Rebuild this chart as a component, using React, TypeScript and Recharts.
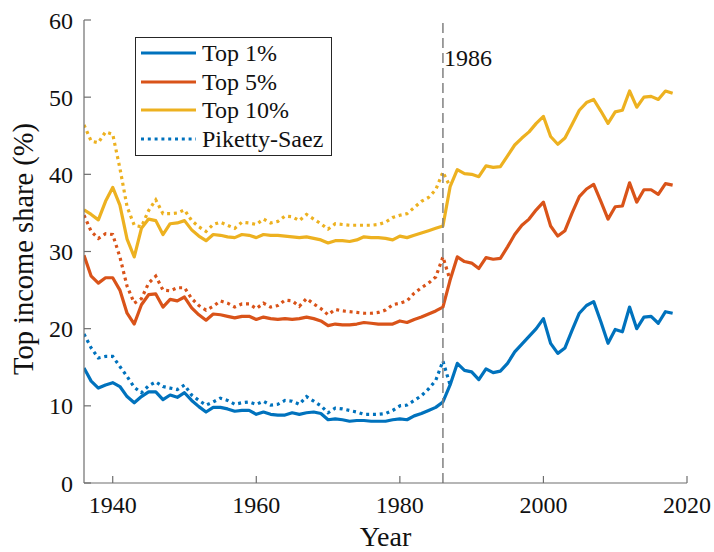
import React from 'react';
import { LineChart, Line, XAxis, YAxis, ReferenceLine, Label } from 'recharts';

const START_YEAR = 1936;

const top1 = [
  14.9, 13.2, 12.3, 12.7, 13.0, 12.5, 11.2, 10.4, 11.2, 11.8,
  11.8, 10.8, 11.4, 11.1, 11.7, 10.7, 9.9, 9.2, 9.8, 9.8,
  9.6, 9.3, 9.4, 9.4, 8.9, 9.2, 8.9, 8.8, 8.8, 9.1,
  8.9, 9.1, 9.2, 9.0, 8.2, 8.3, 8.2, 8.0, 8.1, 8.1,
  8.0, 8.0, 8.0, 8.2, 8.3, 8.2, 8.7, 9.0, 9.4, 9.8,
  10.5, 12.7, 15.5, 14.6, 14.4, 13.4, 14.8, 14.3, 14.5, 15.5,
  17.0, 18.0, 19.0, 20.0, 21.3, 18.1, 16.8, 17.5, 19.8, 22.0,
  23.0, 23.5, 20.9, 18.1, 19.9, 19.6, 22.8, 20.0, 21.5, 21.6,
  20.7, 22.2, 22.0,
];

const top5 = [
  29.5, 26.8, 25.9, 26.6, 26.6, 25.0, 22.0, 20.6, 23.1, 24.4,
  24.5, 22.8, 23.8, 23.6, 24.1, 22.7, 21.8, 21.1, 21.9, 21.8,
  21.6, 21.4, 21.6, 21.6, 21.2, 21.5, 21.3, 21.2, 21.3, 21.2,
  21.3, 21.5, 21.3, 21.0, 20.4, 20.6, 20.5, 20.5, 20.6, 20.8,
  20.7, 20.6, 20.6, 20.6, 21.0, 20.8, 21.2, 21.5, 21.9, 22.3,
  22.8, 26.3, 29.3, 28.7, 28.5, 27.8, 29.2, 29.0, 29.1, 30.6,
  32.2, 33.4, 34.2, 35.4, 36.4, 33.3, 32.0, 32.7, 35.0, 37.1,
  38.1, 38.7, 36.5, 34.2, 35.8, 35.9, 38.9, 36.4, 38.0, 38.0,
  37.4, 38.8, 38.6,
];

const top10 = [
  35.4, 34.8, 34.1, 36.5, 38.3, 36.0, 31.6, 29.3, 33.0, 34.2,
  34.0, 32.2, 33.6, 33.7, 34.0, 32.8, 32.0, 31.4, 32.2, 32.1,
  31.9, 31.8, 32.2, 32.1, 31.8, 32.2, 32.1, 32.1, 32.0, 31.9,
  31.8, 31.9, 31.7, 31.5, 31.1, 31.4, 31.4, 31.3, 31.5, 31.9,
  31.8, 31.8, 31.7, 31.5, 32.0, 31.8, 32.1, 32.4, 32.7, 33.0,
  33.3, 38.4, 40.6, 40.1, 40.0, 39.7, 41.1, 40.9, 41.0, 42.4,
  43.8, 44.7, 45.5, 46.6, 47.5, 44.9, 43.9, 44.7, 46.5, 48.3,
  49.3, 49.7, 48.2, 46.6, 48.1, 48.3, 50.8, 48.7, 50.0, 50.1,
  49.7, 50.8, 50.5,
];

// Piketty-Saez series (1936-1987)
const psTop1 = [
  19.3, 17.5, 16.2, 16.4, 16.4, 15.1, 13.8, 12.4, 11.7, 12.6,
  13.1, 12.5, 12.3, 12.1, 12.7, 11.4, 10.7, 10.1, 10.5, 11.0,
  10.7, 10.2, 10.4, 10.5, 10.2, 10.6, 10.1, 10.2, 10.7, 10.6,
  10.2, 11.2, 10.6, 10.0, 9.1, 9.7, 9.6, 9.4, 9.2, 8.9,
  8.9, 8.9, 9.0, 9.4, 10.0, 10.1, 10.7, 11.3, 12.2, 13.3,
  15.8, 12.7,
];

const psTop5 = [
  34.7, 32.6, 31.7, 32.3, 32.2, 29.3, 25.5, 23.3, 23.9, 25.9,
  26.8, 25.0, 24.9, 25.3, 25.3, 23.9, 23.0, 22.4, 22.9, 23.6,
  23.3, 22.8, 23.2, 23.2, 22.6, 23.3, 22.8, 23.0, 23.7, 23.6,
  22.9, 23.9, 23.2, 22.6, 21.8, 22.5, 22.3, 22.2, 22.1, 22.0,
  22.0, 22.1, 22.4, 23.1, 23.3, 23.6, 24.6, 25.3, 25.9, 26.7,
  29.3, 26.3,
];

const psTop10 = [
  46.4, 44.3, 44.1, 45.5, 45.2, 40.8, 35.8, 33.4, 33.2, 35.3,
  36.7, 34.9, 34.9, 35.0, 35.4, 34.0, 33.2, 32.6, 33.5, 33.8,
  33.4, 33.0, 33.8, 33.7, 33.5, 34.2, 33.7, 33.9, 34.6, 34.5,
  34.0, 34.8, 34.2, 33.6, 32.9, 33.6, 33.5, 33.4, 33.4, 33.4,
  33.4, 33.5, 33.8, 34.4, 34.7, 34.9, 35.7, 36.5, 37.0, 38.0,
  40.3, 38.4,
];

const xTicks = [1940, 1960, 1980, 2000, 2020];
const yTicks = [0, 10, 20, 30, 40, 50, 60];
const REFORM_YEAR = 1986;

const BLUE = '#0072BD';
const RED = '#D95319';
const YELLOW = '#EDB120';
const FONT = '"Liberation Serif", "Times New Roman", serif';
const AXIS = '#6e6e6e';
const DOT = '3 3.8';

const legendItems = [
  { name: 'Top 1%', color: BLUE, dotted: false },
  { name: 'Top 5%', color: RED, dotted: false },
  { name: 'Top 10%', color: YELLOW, dotted: false },
  { name: 'Piketty-Saez', color: BLUE, dotted: true },
];

const data = top1.map((v, i) => ({
  year: START_YEAR + i,
  top1: v,
  top5: top5[i],
  top10: top10[i],
  ps1: i < psTop1.length ? psTop1[i] : null,
  ps5: i < psTop5.length ? psTop5[i] : null,
  ps10: i < psTop10.length ? psTop10[i] : null,
}));

export default function App() {
  const tickStyle = { fontSize: 24, fill: '#111', fontFamily: FONT };
  return (
    <div style={{ position: 'absolute', left: 0, top: 0, width: 714, height: 552, background: '#fff' }}>
      <LineChart width={714} height={552} data={data} margin={{ top: 20, right: 27, left: 0, bottom: 0 }}>
        <XAxis
          dataKey="year"
          type="number"
          domain={[1936, 2020]}
          ticks={xTicks}
          interval={0}
          allowDataOverflow
          height={69}
          tickSize={-7}
          tickMargin={20}
          tick={tickStyle}
          axisLine={{ stroke: AXIS, strokeWidth: 1.2 }}
          tickLine={{ stroke: AXIS, strokeWidth: 1.2 }}
        >
          <Label
            content={() => (
              <text x={385.5} y={546} textAnchor="middle" fontSize={28} fontFamily={FONT} fill="#111">
                Year
              </text>
            )}
          />
        </XAxis>
        <YAxis
          type="number"
          domain={[0, 60]}
          ticks={yTicks}
          interval={0}
          width={84}
          tickSize={-7}
          tickMargin={18}
          tick={tickStyle}
          axisLine={{ stroke: AXIS, strokeWidth: 1.2 }}
          tickLine={{ stroke: AXIS, strokeWidth: 1.2 }}
        >
          <Label
            content={() => (
              <text
                transform="translate(33,249) rotate(-90)"
                textAnchor="middle"
                fontSize={28.5}
                fontFamily={FONT}
                fill="#111"
              >
                Top income share (%)
              </text>
            )}
          />
        </YAxis>
        <Line type="linear" dataKey="top1" stroke={BLUE} strokeWidth={3.2} dot={false} isAnimationActive={false} strokeLinejoin="round" />
        <Line type="linear" dataKey="top5" stroke={RED} strokeWidth={3.2} dot={false} isAnimationActive={false} strokeLinejoin="round" />
        <Line type="linear" dataKey="top10" stroke={YELLOW} strokeWidth={3.2} dot={false} isAnimationActive={false} strokeLinejoin="round" />
        <Line type="linear" dataKey="ps1" stroke={BLUE} strokeWidth={3.2} strokeDasharray={DOT} dot={false} isAnimationActive={false} />
        <Line type="linear" dataKey="ps5" stroke={RED} strokeWidth={3.2} strokeDasharray={DOT} dot={false} isAnimationActive={false} />
        <Line type="linear" dataKey="ps10" stroke={YELLOW} strokeWidth={3.2} strokeDasharray={DOT} dot={false} isAnimationActive={false} />
        <ReferenceLine
          x={REFORM_YEAR}
          stroke="#808080"
          strokeWidth={1.5}
          strokeDasharray="10 5"
          label={(p: any) => (
            <text x={(p.viewBox?.x ?? 443) + 1} y={66} fontSize={24} fontFamily={FONT} fill="#111">
              {String(REFORM_YEAR)}
            </text>
          )}
        />
      </LineChart>
      <div
        style={{
          position: 'absolute',
          left: 135,
          top: 37,
          width: 197,
          height: 119,
          border: '1px solid #262626',
          background: '#fff',
          boxSizing: 'border-box',
          paddingTop: 1,
          fontFamily: FONT,
          fontSize: 24,
          color: '#111',
        }}
      >
        {legendItems.map((it) => (
          <div key={it.name} style={{ height: 28.5, display: 'flex', alignItems: 'center' }}>
            <svg width={66} height={10} style={{ flex: 'none' }}>
              <line
                x1={5}
                x2={60}
                y1={5}
                y2={5}
                stroke={it.color}
                strokeWidth={3.2}
                strokeDasharray={it.dotted ? DOT : undefined}
              />
            </svg>
            <span style={{ lineHeight: '28px', whiteSpace: 'nowrap' }}>{it.name}</span>
          </div>
        ))}
      </div>
    </div>
  );
}
